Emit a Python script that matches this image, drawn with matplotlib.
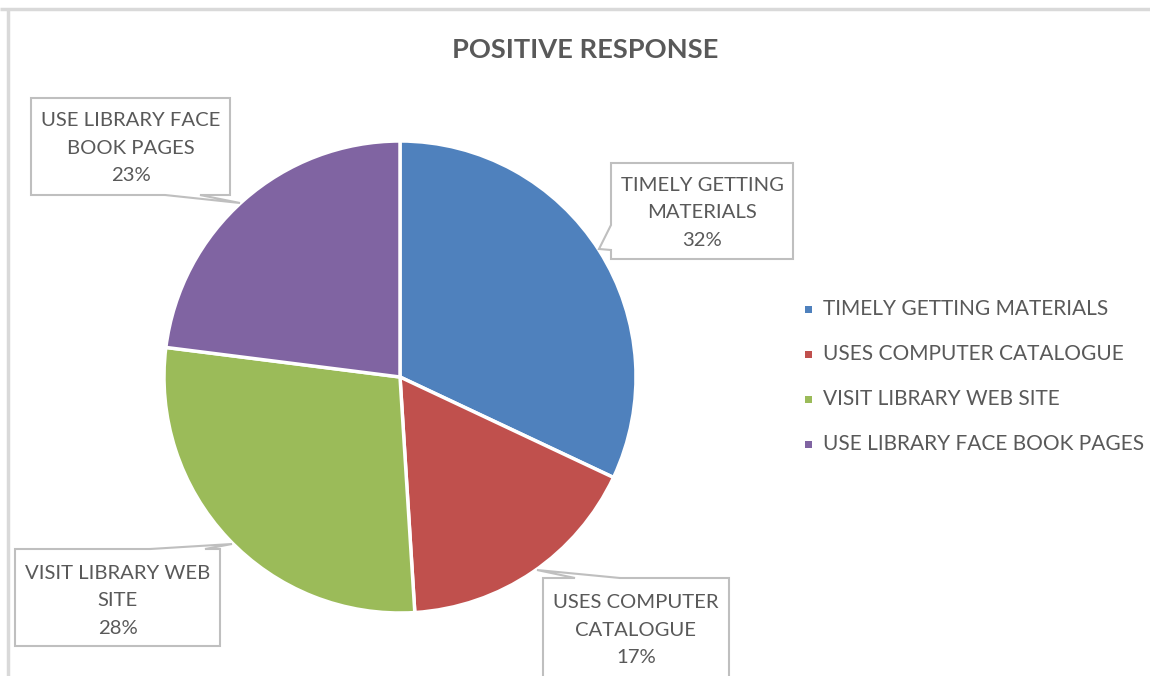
import numpy as np
import matplotlib
matplotlib.use("Agg")
import matplotlib.pyplot as plt
from matplotlib.patches import Polygon, Rectangle

# Positive response survey figures
labels = ["TIMELY GETTING MATERIALS", "USES COMPUTER CATALOGUE",
          "VISIT LIBRARY WEB SITE", "USE LIBRARY FACE BOOK PAGES"]
box_labels = ["TIMELY GETTING\nMATERIALS", "USES COMPUTER\nCATALOGUE",
              "VISIT LIBRARY WEB\nSITE", "USE LIBRARY FACE\nBOOK PAGES"]
shares = [32, 17, 28, 23]
colors = ["#4F81BD", "#C0504D", "#9BBB59", "#8064A2"]

W, H = 1150, 676
txt_col = "#595959"
line_col = "#BFBFBF"
plt.rcParams['font.family'] = ['Lato', 'DejaVu Sans']

fig = plt.figure(figsize=(W / 100, H / 100), dpi=100)
ax = fig.add_axes([0, 0, 1, 1])

def Y(py):
    # pixel rows counted from the top
    return H - py

wedges, _ = ax.pie(shares, colors=colors, startangle=90, counterclock=False,
                   center=(400, Y(377)), radius=236,
                   wedgeprops=dict(edgecolor="white", linewidth=2.5))

# outer frame (only top and left edges visible)
ax.plot([0, W], [Y(9), Y(9)], color="#D9D9D9", lw=2.5, solid_capstyle="butt")
ax.plot([8, 8], [Y(9), 0], color="#D9D9D9", lw=2.5, solid_capstyle="butt")

ax.text(585, Y(50), "POSITIVE RESPONSE", ha="center", va="center",
        fontsize=19.6, fontweight="bold", color=txt_col)

# callout boxes: (x0, y0, x1, y1), pointer side, pointer base, tip, text centre
callouts = [
    ((611, 163, 793, 259), "left", (225, 250), (599, 249), 213),
    ((543, 578, 729, 700), "top", (575, 620), (537, 570), 630),
    ((15, 549, 220, 646), "top", (150, 205), (232, 544), 601),
    ((31, 98, 230, 195), "bottom", (165, 200), (240, 203), 148),
]

for i, ((x0, y0, x1, y1), side, (b0, b1), tip, cy) in enumerate(callouts):
    if side == "left":
        pts = [(x0, y0), (x1, y0), (x1, y1), (x0, y1), (x0, b1), tip, (x0, b0)]
    elif side == "top":
        pts = [(x0, y0), (b0, y0), tip, (b1, y0), (x1, y0), (x1, y1), (x0, y1)]
    else:
        pts = [(x0, y0), (x1, y0), (x1, y1), (b1, y1), tip, (b0, y1), (x0, y1)]
    pts = [(px, Y(py)) for px, py in pts]
    ax.add_patch(Polygon(pts, closed=True, facecolor="white",
                         edgecolor=line_col, lw=1.5, zorder=3))
    cx = (x0 + x1) / 2
    ax.text(cx, Y(cy), box_labels[i] + "\n" + str(shares[i]) + "%",
            ha="center", va="center", fontsize=14.6, color=txt_col,
            linespacing=1.75, zorder=4)

# legend
for i, lab in enumerate(labels):
    ly = 309 + 45 * i
    ax.add_patch(Rectangle((805, Y(ly) - 3.5), 7, 7, facecolor=colors[i],
                           edgecolor="none"))
    ax.text(823, Y(ly), lab, ha="left", va="center", fontsize=15,
            color=txt_col)

ax.set_xlim(0, W)
ax.set_ylim(0, H)
ax.set_aspect("auto")
ax.axis("off")

fig.savefig("out.png", dpi=100)
